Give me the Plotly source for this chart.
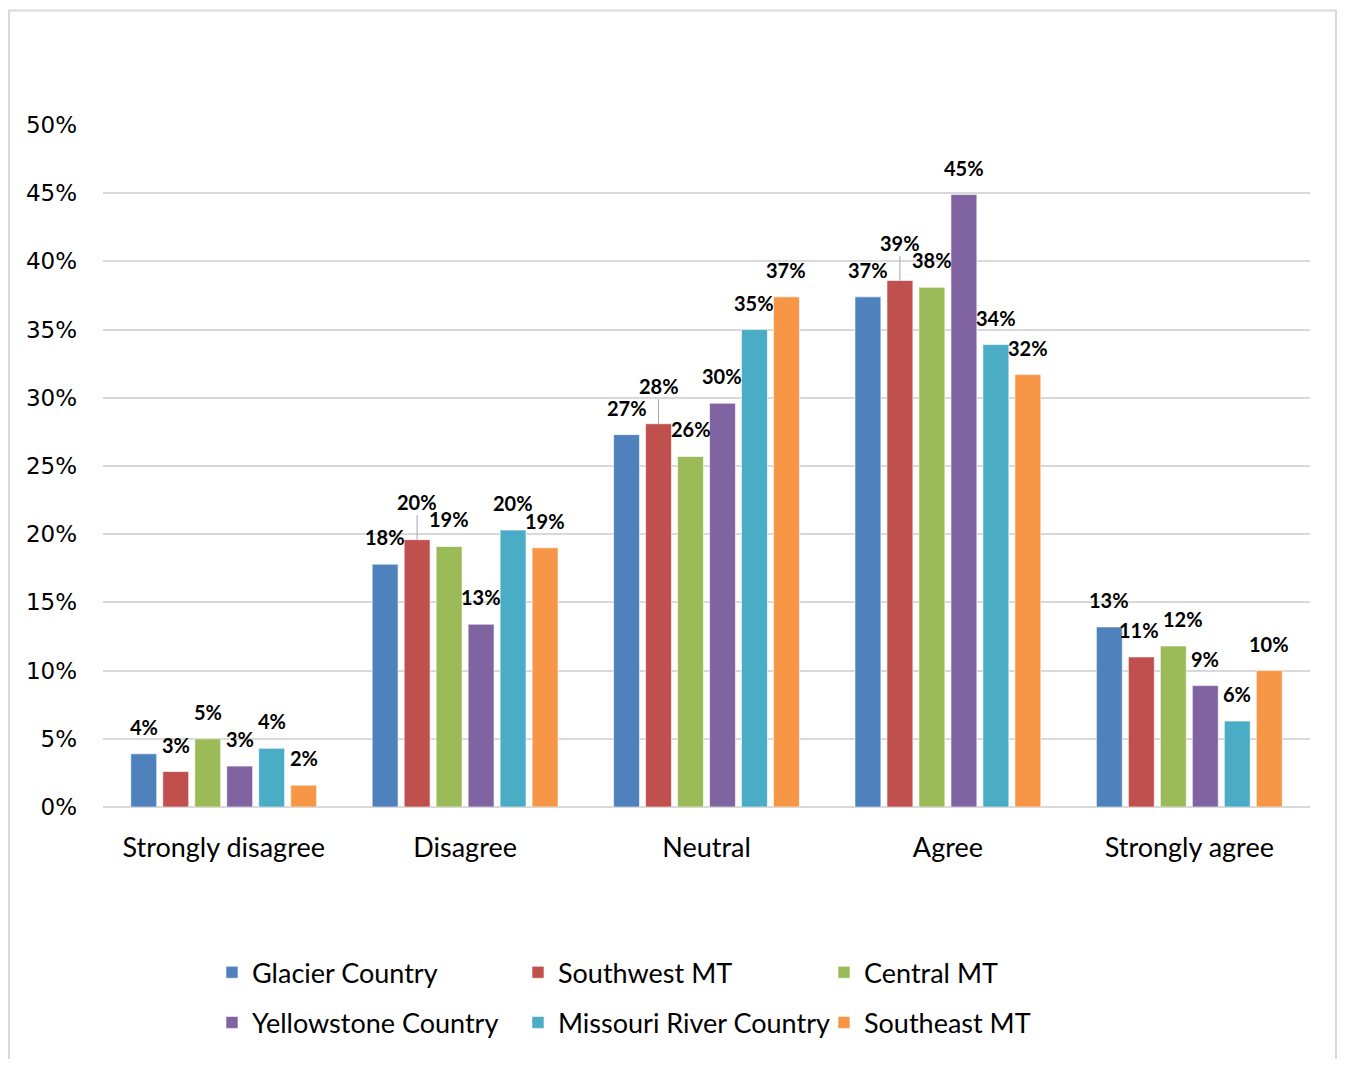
import plotly.graph_objects as go

categories = ['Strongly disagree', 'Disagree', 'Neutral', 'Agree', 'Strongly agree']

glacier = [0.039, 0.178, 0.273, 0.374, 0.132]
southwest = [0.026, 0.196, 0.281, 0.386, 0.110]
central = [0.050, 0.191, 0.257, 0.381, 0.118]
yellowstone = [0.030, 0.134, 0.296, 0.449, 0.089]
missouri = [0.043, 0.203, 0.350, 0.339, 0.063]
southeast = [0.016, 0.190, 0.374, 0.317, 0.100]

series = [
    ('Glacier Country', glacier, '#4F81BD', 'legend'),
    ('Southwest MT', southwest, '#C0504D', 'legend'),
    ('Central MT', central, '#9BBB59', 'legend'),
    ('Yellowstone Country', yellowstone, '#8064A2', 'legend2'),
    ('Missouri River Country', missouri, '#4BACC6', 'legend2'),
    ('Southeast MT', southeast, '#F79646', 'legend2'),
]

# labels that were dragged up with a leader line in the original
raised = {('Southwest MT', 'Disagree'), ('Southwest MT', 'Neutral'), ('Southwest MT', 'Agree')}
# labels nudged sideways in the original
nudged = {('Central MT', 'Strongly agree'): 10, ('Southwest MT', 'Strongly agree'): -2}

# page body has an 8px margin, so the figure is drawn 16px smaller
W, H = 1329, 1051
L, R, T, B = 95, 27, 117, 242
BARGAP, GROUPGAP = 0.205, 0.19
plot_w = W - L - R
slot = plot_w / len(categories) * (1 - BARGAP) / len(series)

fig = go.Figure()
annotations = []
for i, (name, vals, color, leg) in enumerate(series):
    fig.add_trace(go.Bar(
        x=categories, y=vals, name=name, legend=leg,
        marker=dict(color=color, line=dict(color='rgba(255,255,255,0.6)', width=1)),
        hoverinfo='x+y+name',
    ))
    for cat, v in zip(categories, vals):
        a = dict(
            x=cat, y=v, xref='x', yref='y', text=f'{v:.0%}',
            xshift=(i - 2.5) * slot + nudged.get((name, cat), 0),
            font=dict(family='Lato', size=20, color='black', weight='bold'),
        )
        if (name, cat) in raised:
            a.update(showarrow=True, ax=0, ay=-38, arrowhead=0, arrowwidth=1,
                     arrowcolor='#A6A6A6', standoff=0)
        else:
            a.update(showarrow=False, yanchor='bottom', yshift=13)
        annotations.append(a)

legend_style = dict(
    orientation='h', xanchor='left', yanchor='middle',
    font=dict(family='Lato', size=27, color='#000000'),
    entrywidth=261, entrywidthmode='pixels', itemwidth=30,
    bgcolor='rgba(0,0,0,0)',
)

fig.update_layout(
    width=W, height=H,
    margin=dict(l=L, r=R, t=T, b=B),
    plot_bgcolor='white', paper_bgcolor='white',
    barmode='group', bargap=BARGAP, bargroupgap=GROUPGAP,
    showlegend=True,
    legend=dict(x=0.0903, y=-0.243, **legend_style),
    legend2=dict(x=0.0903, y=-0.3165, **legend_style),
    annotations=annotations,
    xaxis=dict(
        showgrid=False, showline=False, ticks='', ticklabelstandoff=22,
        tickfont=dict(family='Lato', size=27, color='#000000'),
    ),
    yaxis=dict(
        range=[0, 0.5], dtick=0.05, tickformat='.0%',
        showgrid=True, gridcolor='#D9D9D9', gridwidth=1.5,
        zeroline=True, zerolinecolor='#D9D9D9', zerolinewidth=1.5,
        showline=False, ticks='', ticklabelstandoff=25,
        tickfont=dict(family='DejaVu Sans', size=23, color='#000000'),
    ),
    shapes=[dict(
        type='rect', xref='paper', yref='paper',
        x0=-0.0779, x1=1.0215, y0=-0.4, y1=1.168,
        line=dict(color='#D9D9D9', width=2), fillcolor='rgba(0,0,0,0)',
    )],
)

fig.write_html('out.html')
